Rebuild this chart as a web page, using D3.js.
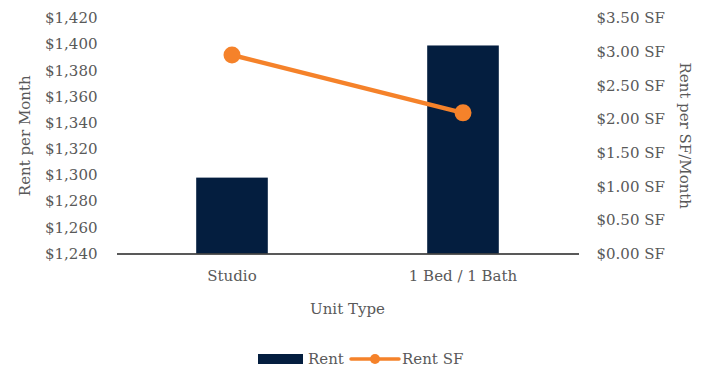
<!DOCTYPE html>
<html>
<head>
<meta charset="utf-8">
<script src="https://cdn.jsdelivr.net/npm/d3@7"></script>
<style>
  html, body { margin: 0; padding: 0; background: #fff; }
  svg { display: block; }
  text { font-family: "DejaVu Serif", serif; fill: #595959; }
</style>
</head>
<body>
<svg id="chart" width="704" height="370"></svg>
<script>
// Unit types and their rents
const categories = ["Studio", "1 Bed / 1 Bath"];
const rentValues = [1298, 1399];
const rentPerSF = [2.95, 2.09];
const leftTicks = [1240, 1260, 1280, 1300, 1320, 1340, 1360, 1380, 1400, 1420];
const rightTicks = [0, 0.5, 1, 1.5, 2, 2.5, 3, 3.5];

const NAVY = "#041e3f";
const ORANGE = "#f5822a";

const svg = d3.select("#chart");
const plot = { left: 116.5, right: 578.5, top: 18, bottom: 253.5 };

const x = d3.scaleBand().domain(categories)
  .range([plot.left, plot.right]).paddingInner(0.69).paddingOuter(0.345);
const yL = d3.scaleLinear().domain([1240, 1420]).range([plot.bottom, plot.top]);
const yR = d3.scaleLinear().domain([0, 3.5]).range([plot.bottom, plot.top]);

const fmtL = d3.format("$,.0f");
const fmtR = v => "$" + d3.format(".2f")(v) + " SF";

// Bars
svg.append("g").selectAll("rect").data(categories).join("rect")
  .attr("x", d => x(d))
  .attr("width", x.bandwidth())
  .attr("y", (d, i) => yL(rentValues[i]))
  .attr("height", (d, i) => yL(1240) - yL(rentValues[i]))
  .attr("fill", NAVY);

// Left axis (labels only)
const gL = svg.append("g").attr("transform", `translate(${plot.left},0)`)
  .call(d3.axisLeft(yL).tickValues(leftTicks).tickFormat(fmtL).tickSize(0).tickPadding(19));
gL.select(".domain").remove();

// Right axis (labels only)
const gR = svg.append("g").attr("transform", `translate(${plot.right},0)`)
  .call(d3.axisRight(yR).tickValues(rightTicks).tickFormat(fmtR).tickSize(0).tickPadding(18));
gR.select(".domain").remove();

// Bottom axis
const gB = svg.append("g").attr("transform", `translate(0,${plot.bottom})`)
  .call(d3.axisBottom(x).tickSize(0).tickPadding(17));
gB.select(".domain").attr("stroke", "#222").attr("stroke-width", 1.5);

svg.selectAll(".tick text").style("font-family", '"DejaVu Serif", serif')
  .style("font-size", "15px").attr("fill", "#595959");

// Line series on secondary axis
const line = d3.line()
  .x((d, i) => x(categories[i]) + x.bandwidth() / 2)
  .y(d => yR(d));
svg.append("path").datum(rentPerSF)
  .attr("d", line).attr("fill", "none")
  .attr("stroke", ORANGE).attr("stroke-width", 4.5).attr("stroke-linecap", "round");
svg.append("g").selectAll("circle").data(rentPerSF).join("circle")
  .attr("cx", (d, i) => x(categories[i]) + x.bandwidth() / 2)
  .attr("cy", d => yR(d))
  .attr("r", 8.5).attr("fill", ORANGE);

// Axis titles
svg.append("text")
  .attr("transform", `translate(30,${(plot.top + plot.bottom) / 2}) rotate(-90)`)
  .attr("text-anchor", "middle").style("font-size", "15px")
  .text("Rent per Month");
svg.append("text")
  .attr("transform", `translate(680,${(plot.top + plot.bottom) / 2}) rotate(90)`)
  .attr("text-anchor", "middle").style("font-size", "15px")
  .text("Rent per SF/Month");
svg.append("text")
  .attr("x", (plot.left + plot.right) / 2).attr("y", 314)
  .attr("text-anchor", "middle").style("font-size", "15px")
  .text("Unit Type");

// Legend
const lg = svg.append("g").attr("transform", "translate(0,359)");
lg.append("rect").attr("x", 258).attr("y", -5).attr("width", 45).attr("height", 10).attr("fill", NAVY);
lg.append("text").attr("x", 308).attr("y", 0).attr("dy", "0.35em").style("font-size", "15px").text("Rent");
lg.append("line").attr("x1", 351).attr("x2", 399).attr("y1", 0).attr("y2", 0)
  .attr("stroke", ORANGE).attr("stroke-width", 3.5).attr("stroke-linecap", "round");
lg.append("circle").attr("cx", 375).attr("cy", 0).attr("r", 5).attr("fill", ORANGE);
lg.append("text").attr("x", 402).attr("y", 0).attr("dy", "0.35em").style("font-size", "15px").text("Rent SF");
</script>
</body>
</html>
